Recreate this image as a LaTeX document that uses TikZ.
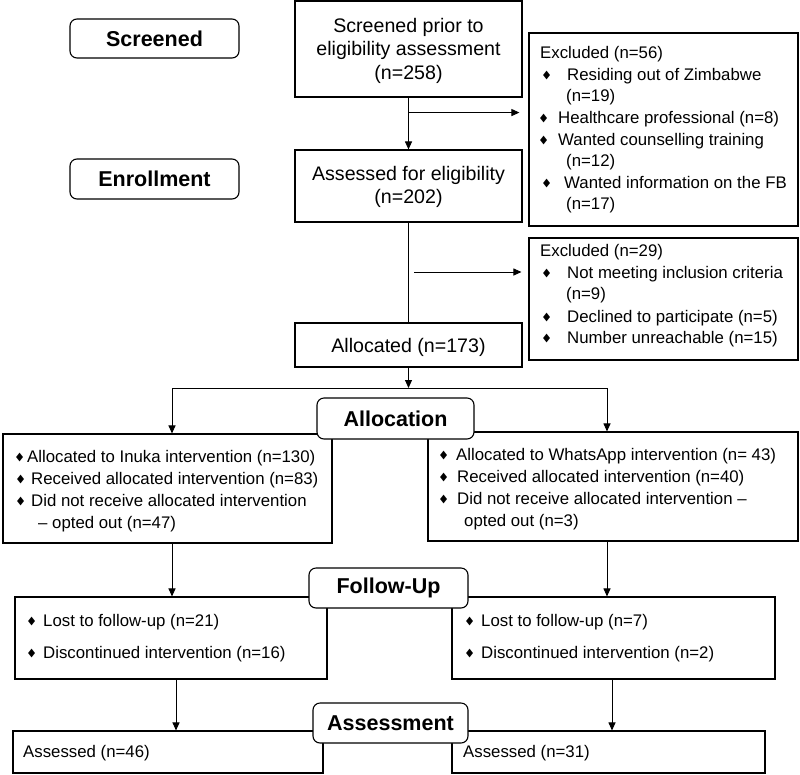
\documentclass[tikz,border=0pt]{standalone}
\usepackage{fontspec}
\usepackage{graphicx}
\setmainfont{Liberation Sans}
\newfontfamily\dv{DejaVu Sans}
\usetikzlibrary{arrows.meta,calc}
\newcommand\bul{\scalebox{0.8}[1]{\dv\fontsize{11.5}{11.5}\selectfont ◆}}
\newcommand\bl[1]{\llap{\raisebox{1.3pt}{\bul}\hspace{#1}}}
\begin{document}
\begin{tikzpicture}[x=1pt,y=-1pt,
  box/.style={draw=black, line width=1.1pt, inner sep=0pt, rectangle},
  lbl/.style={draw=black, line width=1.1pt, rounded corners=7pt, fill=white, inner sep=0pt, font=\fontsize{21.5}{24}\selectfont\bfseries},
  txt/.style={inner sep=0pt, anchor=base west, font=\fontsize{16.8}{20}\selectfont},
  ctxt/.style={inner sep=0pt, anchor=base, font=\fontsize{19.6}{23}\selectfont},
  arr/.style={line width=1pt, -{Triangle[length=8pt,width=7pt]}},
  ln/.style={line width=1pt}]
\useasboundingbox (0,0) rectangle (800,774);

% boxes
\node[box, minimum width=227pt, minimum height=96pt] (screened) at (408.5,49) {};
\node[box, minimum width=227pt, minimum height=72pt] (assessed) at (408.5,186) {};
\node[box, minimum width=269pt, minimum height=193pt] (excl1) at (663.5,129.5) {};
\node[box, minimum width=269pt, minimum height=122pt] (excl2) at (663.5,299) {};
\node[box, minimum width=227pt, minimum height=44pt] (allocated) at (408.5,345) {};
\node[box, minimum width=329pt, minimum height=109pt] (leftAlloc) at (167.5,488.5) {};
\node[box, minimum width=370pt, minimum height=109pt] (rightAlloc) at (613,486.5) {};
\node[box, minimum width=312pt, minimum height=82pt] (leftFU) at (171,638) {};
\node[box, minimum width=323pt, minimum height=82pt] (rightFU) at (613.5,638) {};
\node[box, minimum width=310pt, minimum height=42pt] (leftAs) at (168,752) {};
\node[box, minimum width=313pt, minimum height=42pt] (rightAs) at (608.5,752) {};

% centred texts
\node[ctxt] (s1) at (408.5,32) {Screened prior to};
\node[ctxt] (s2) at (408.5,55) {eligibility assessment};
\node[ctxt] (s3) at (408.5,79) {(n=258)};
\node[ctxt] (r1) at (408.5,180) {Assessed for eligibility};
\node[ctxt] (r2) at (408.5,203) {(n=202)};
\node[ctxt] (al) at (408.5,352) {Allocated (n=173)};

% excluded 1
\node[txt] (e1) at (540,58) {Excluded (n=56)};
\node[txt] (e2) at (567,80) {\bl{17pt}Residing out of Zimbabwe};
\node[txt] (e3) at (566,101) {(n=19)};
\node[txt] (e4) at (558,123) {\bl{11pt}Healthcare professional (n=8)};
\node[txt] (e5) at (558,145) {\bl{11pt}Wanted counselling training};
\node[txt] (e6) at (566,166) {(n=12)};
\node[txt] (e7) at (564,188) {\bl{14pt}Wanted information on the FB};
\node[txt] (e8) at (566,209) {(n=17)};

% excluded 2
\node[txt] (f1) at (540,256) {Excluded (n=29)};
\node[txt] (f2) at (567,278) {\bl{17pt}Not meeting inclusion criteria};
\node[txt] (f3) at (566,299) {(n=9)};
\node[txt] (f4) at (567,322) {\bl{17pt}Declined to participate (n=5)};
\node[txt] (f5) at (567,343) {\bl{17pt}Number unreachable (n=15)};

% left allocation
\node[txt] (a1) at (27,462) {\bl{4pt}Allocated to Inuka intervention (n=130)};
\node[txt] (a2) at (31,484) {\bl{7pt}Received allocated intervention (n=83)};
\node[txt] (a3) at (31,506) {\bl{7pt}Did not receive allocated intervention};
\node[txt] (a4) at (38,528) {– opted out (n=47)};

% right allocation
\node[txt] (b1) at (456,460) {\bl{9pt}Allocated to WhatsApp intervention (n=~43)};
\node[txt] (b2) at (457,482) {\bl{10pt}Received allocated intervention (n=40)};
\node[txt] (b3) at (457,504) {\bl{10pt}Did not receive allocated intervention –};
\node[txt] (b4) at (464,526) {opted out (n=3)};

% follow-up
\node[txt] (c1) at (43,626) {\bl{8pt}Lost to follow-up (n=21)};
\node[txt] (c2) at (43,658) {\bl{8pt}Discontinued intervention (n=16)};
\node[txt] (d1) at (481,626) {\bl{8pt}Lost to follow-up (n=7)};
\node[txt] (d2) at (481,658) {\bl{8pt}Discontinued intervention (n=2)};

% assessed
\node[txt] (g1) at (23,757) {Assessed (n=46)};
\node[txt] (g2) at (463,757) {Assessed (n=31)};

% connectors
\coordinate (j1) at ($(screened.south)+(0,15)$);
\draw[arr] (screened.south) -- (assessed.north);
\draw[arr, shorten >=9pt] (j1) -- (j1 -| excl1.west);
\draw[ln] (assessed.south) -- (allocated.north);
\coordinate (j2) at (414,272);
\draw[arr, shorten >=7pt] (j2) -- (j2 -| excl2.west);
\coordinate (j3) at (408.5,388);
\draw[arr] (allocated.south) -- (j3);
\coordinate (jL) at (172,388);
\coordinate (jR) at (607,388);
\draw[ln] (jL) -- (jR);
\draw[arr] (jL) -- (jL |- leftAlloc.north);
\draw[arr] (jR) -- (jR |- rightAlloc.north);
\draw[arr] (jL |- leftAlloc.south) -- (jL |- leftFU.north);
\draw[arr] (jR |- rightAlloc.south) -- (jR |- rightFU.north);
\coordinate (kL) at (176,700);
\coordinate (kR) at (612,700);
\draw[arr] (kL |- leftFU.south) -- (kL |- leftAs.north);
\draw[arr] (kR |- rightFU.south) -- (kR |- rightAs.north);

% stage labels
\node[lbl, minimum width=169pt, minimum height=39pt] (lScr) at (154.5,38.5) {Screened};
\node[lbl, minimum width=169pt, minimum height=40pt] (lEnr) at (154.5,179) {Enrollment};
\node[lbl, minimum width=157pt, minimum height=41pt] (lAll) at (395.5,418.5) {Allocation};
\node[lbl, minimum width=159pt, minimum height=40pt] (lFol) at (388.5,588) {Follow-Up};
\node[lbl, minimum width=155pt, minimum height=40pt] (lAss) at (390.5,723) {Assessment};
\end{tikzpicture}
\end{document}
